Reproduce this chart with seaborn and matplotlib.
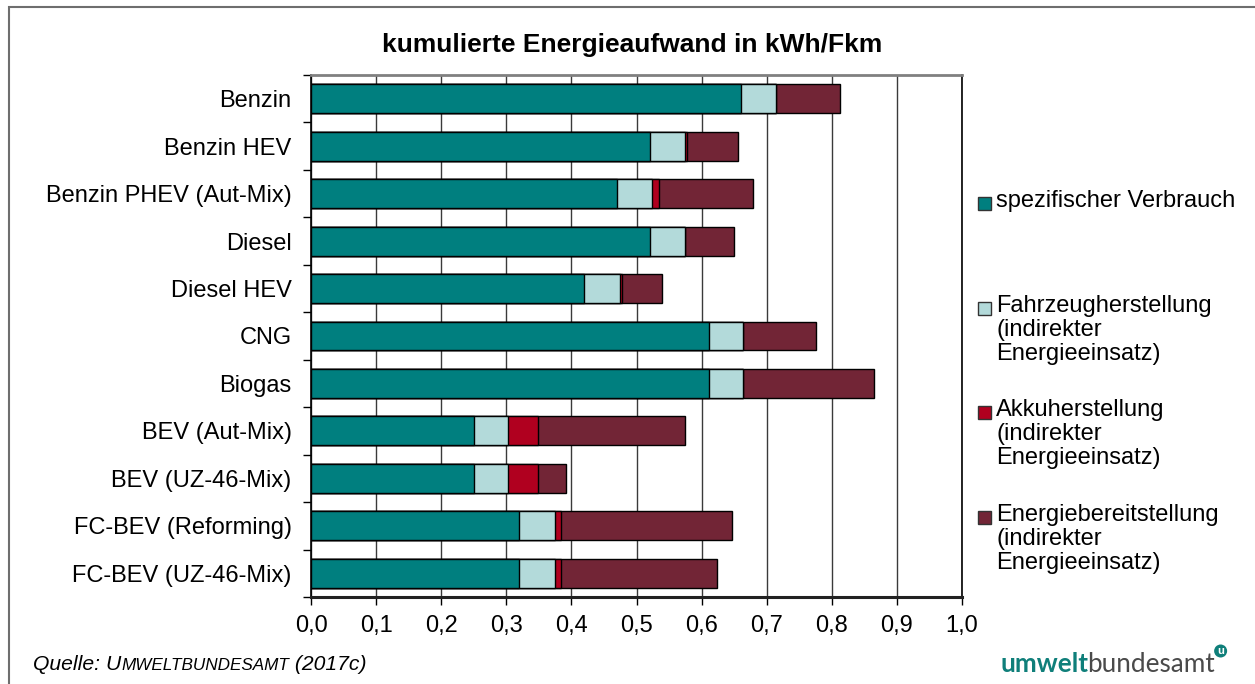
import matplotlib
matplotlib.use("Agg")
import matplotlib.pyplot as plt
import matplotlib.patches as mpatches
import numpy as np
import pandas as pd
import seaborn as sns

# ---------------- data ----------------
categories = ["Benzin", "Benzin HEV", "Benzin PHEV (Aut-Mix)", "Diesel", "Diesel HEV",
              "CNG", "Biogas", "BEV (Aut-Mix)", "BEV (UZ-46-Mix)",
              "FC-BEV (Reforming)", "FC-BEV (UZ-46-Mix)"]
verbrauch = [0.660, 0.520, 0.470, 0.520, 0.420, 0.611, 0.611, 0.250, 0.250, 0.320, 0.320]
fahrzeug = [0.054, 0.054, 0.054, 0.054, 0.054, 0.053, 0.053, 0.052, 0.052, 0.055, 0.055]
akku = [0.000, 0.004, 0.011, 0.000, 0.004, 0.000, 0.000, 0.047, 0.047, 0.009, 0.009]
energie = [0.098, 0.078, 0.144, 0.076, 0.061, 0.111, 0.201, 0.226, 0.043, 0.262, 0.240]

series_names = ["spezifischer Verbrauch",
                "Fahrzeugherstellung\n(indirekter\nEnergieeinsatz)",
                "Akkuherstellung\n(indirekter\nEnergieeinsatz)",
                "Energiebereitstellung\n(indirekter\nEnergieeinsatz)"]
series_colors = ["#007F7F", "#B3DADA", "#B0001F", "#722536"]
xtick_values = [0.0, 0.1, 0.2, 0.3, 0.4, 0.5, 0.6, 0.7, 0.8, 0.9, 1.0]
xtick_labels = ["0,0", "0,1", "0,2", "0,3", "0,4", "0,5", "0,6", "0,7", "0,8", "0,9", "1,0"]
title = "kumulierte Energieaufwand in kWh/Fkm"

# ---------------- style ----------------
sns.set_theme(style="white")
plt.rcParams["font.family"] = ["Liberation Sans", "DejaVu Sans"]

W, H = 1255, 684
fig = plt.figure(figsize=(W / 100, H / 100), dpi=100)
fig.patch.set_facecolor("white")

ax = fig.add_axes([311 / W, 1 - 597 / H, (962 - 311) / W, (597 - 75) / H])

df = pd.DataFrame({"cat": categories, "v": verbrauch, "f": fahrzeug, "a": akku, "e": energie})
cum1 = df["v"]
cum2 = cum1 + df["f"]
cum3 = cum2 + df["a"]
cum4 = cum3 + df["e"]
layers = [cum4, cum3, cum2, cum1]
layer_colors = series_colors[::-1]

ax.set_axisbelow(True)
for vals, col in zip(layers, layer_colors):
    d = pd.DataFrame({"cat": df["cat"], "val": vals})
    sns.barplot(data=d, x="val", y="cat", orient="h", color=col, saturation=1,
                edgecolor="black", linewidth=1.0, width=0.61, ax=ax, zorder=3)

ax.set_xlim(0, 1)
ax.set_ylim(10.5, -0.5)
ax.set_xlabel("")
ax.set_ylabel("")
ax.set_xticks(xtick_values)
ax.set_xticklabels(xtick_labels)
ax.xaxis.grid(True, color="#3a3a3a", linewidth=1.0, zorder=0)
ax.yaxis.grid(False)

fs = 17
ax.tick_params(axis="x", which="major", direction="out", length=6, width=1,
               color="black", labelsize=fs, pad=7, bottom=True)
ax.tick_params(axis="y", which="major", length=0, labelsize=fs, pad=14, left=True)
ax.set_yticks(np.arange(-0.5, 11, 1.0), minor=True)
ax.tick_params(axis="y", which="minor", direction="out", length=6, width=1, color="black", left=True)
for lab in ax.get_yticklabels() + ax.get_xticklabels():
    lab.set_color("black")

for side, col, lw in [("left", "black", 1.2), ("bottom", "#222222", 2.2),
                      ("top", "#808080", 2.0), ("right", "black", 1.2)]:
    ax.spines[side].set_visible(True)
    ax.spines[side].set_color(col)
    ax.spines[side].set_linewidth(lw)

# ---------------- title ----------------
fig.text(632 / W, 1 - 45 / H, title, ha="center", va="center",
         fontsize=19, fontweight="bold", color="black")

# ---------------- legend (manual, Excel-like spacing) ----------------
legend_y = [203, 308, 412, 517]
for name, col, yy in zip(series_names, series_colors, legend_y):
    sq = mpatches.Rectangle((978 / 100, (H - yy - 6.5) / 100), 0.13, 0.13,
                            transform=fig.dpi_scale_trans, facecolor=col,
                            edgecolor="#333333", linewidth=1.0)
    fig.patches.append(sq)
    fig.text(996 / W, 1 - (yy - 13) / H, name, ha="left", va="top",
             fontsize=fs, linespacing=1.12, color="black")

# ---------------- border (right edge lies outside the picture) ----------------
border = mpatches.Rectangle((0.09, -0.2), 12.8, (H - 7) / 100 + 0.2,
                            transform=fig.dpi_scale_trans, facecolor="none",
                            edgecolor="#6e6e6e", linewidth=1.5)
fig.patches.append(border)

# ---------------- source (small caps imitation) ----------------
fig.canvas.draw()
renderer = fig.canvas.get_renderer()
src_parts = [("Quelle: ", 15.2), ("U", 15.2), ("MWELTBUNDESAMT", 12.3), (" (2017c)", 15.2)]
x = 33
for txt, size in src_parts:
    t = fig.text(x / W, 1 - 670 / H, txt, ha="left", va="baseline",
                 fontsize=size, style="italic", color="black")
    bb = t.get_window_extent(renderer)
    x += bb.width

# ---------------- logo ----------------
t1 = fig.text(1000 / W, 1 - 672 / H, "umwelt", ha="left", va="baseline",
              fontsize=18.8, fontweight="bold", color="#0F7F7A", family="Lato")
bb = t1.get_window_extent(renderer)
t2 = fig.text((1000 + bb.width - 1) / W, 1 - 672 / H, "bundesamt", ha="left",
              va="baseline", fontsize=18.8, color="#4a4a4a", family="Lato")
bb2 = t2.get_window_extent(renderer)
cx = 1000 + bb.width - 1 + bb2.width + 6
circ = mpatches.Circle((cx / 100, (H - 651) / 100), 0.065, transform=fig.dpi_scale_trans,
                       facecolor="#0F7F7A", edgecolor="none")
fig.patches.append(circ)
fig.text(cx / W, 1 - 651 / H, "u", ha="center", va="center", fontsize=8,
         fontweight="bold", color="white")

fig.savefig("out.png", dpi=100, facecolor="white")
